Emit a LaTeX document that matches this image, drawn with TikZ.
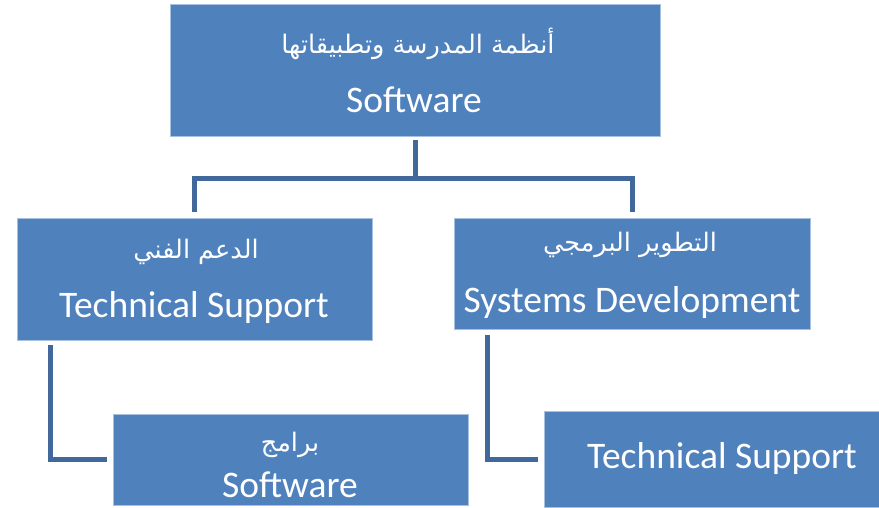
\documentclass[tikz,border=0pt]{standalone}
\usepackage{fontspec}
\setmainfont{Carlito}
\newfontfamily\arabicfont[Script=Arabic]{DejaVu Sans}
\TeXXeTstate=1
\definecolor{boxblue}{HTML}{4F81BD}
\definecolor{linkblue}{HTML}{41689B}
\definecolor{edgeblue}{HTML}{A9C1E0}
\begin{document}
\begin{tikzpicture}[x=1pt,y=-1pt,
  box/.style={draw=edgeblue, line width=0.8pt, fill=boxblue, inner sep=0pt},
  lat/.style={text=white, font=\fontsize{37.5}{40}\selectfont, anchor=base, inner sep=0pt},
  ara/.style={text=white, font=\arabicfont\fontsize{25.5}{28}\selectfont, anchor=base, inner sep=0pt},
  link/.style={draw=linkblue, line width=5pt}]
\useasboundingbox (0,0) rectangle (879,507);
% boxes
\node[box, minimum width=490pt, minimum height=132pt] (top) at (415,70) {};
\node[box, minimum width=355pt, minimum height=122pt] (tsup) at (194.5,279) {};
\node[box, minimum width=356pt, minimum height=111pt] (sdev) at (632,273.5) {};
\node[box, minimum width=355pt, minimum height=91pt] (soft) at (290.5,459.5) {};
\node[box, minimum width=338pt, minimum height=96pt] (tsup2) at (713,459) {};
% connectors
\coordinate (bus) at (415,178);
\draw[link] ([yshift=-4pt]top.south) -- (bus);
\draw[link] ([yshift=6pt]tsup.north) |- (bus) -| ([yshift=6pt]sdev.north);
\coordinate (lstart) at (50,345);
\coordinate (rstart) at (487,335);
\draw[link] (lstart) |- ([xshift=-6pt]soft.west);
\draw[link] (rstart) |- ([xshift=-6pt]tsup2.west);
% texts
\node[ara] (t1a) at (418,53) {\beginR أنظمة المدرسة وتطبيقاتها\endR};
\node[lat] (t1b) at (414,112) {Software};
\node[ara] (t2a) at (196,258) {\beginR الدعم الفني\endR};
\node[lat] (t2b) at (194,317) {Technical Support};
\node[ara] (t3a) at (630,251) {\beginR التطوير البرمجي\endR};
\node[lat] (t3b) at (632,312) {Systems Development};
\node[ara] (t4a) at (290,451) {\beginR برامج\endR};
\node[lat] (t4b) at (290,497) {Software};
\node[lat] (t5b) at (722,468) {Technical Support};
\end{tikzpicture}
\end{document}
